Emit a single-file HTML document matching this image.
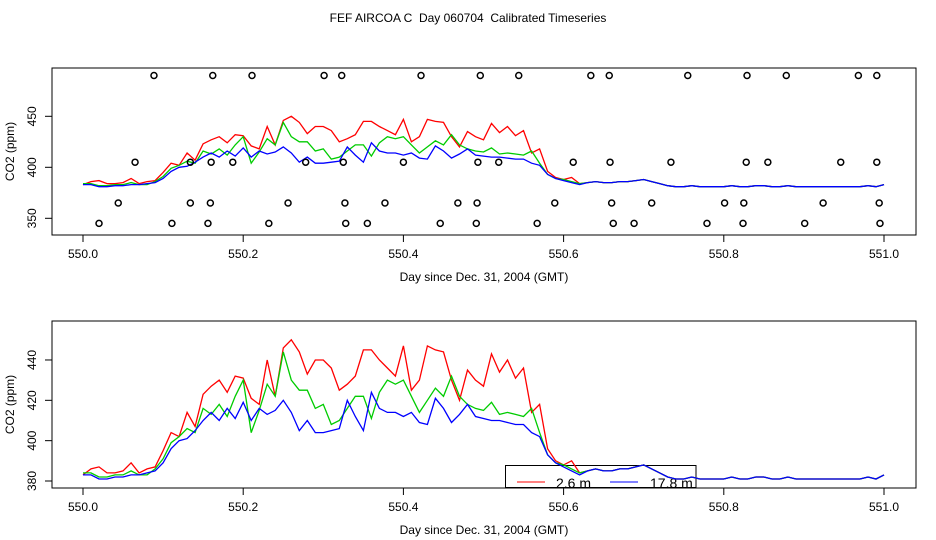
<!DOCTYPE html>
<html><head><meta charset="utf-8"><style>
html,body{margin:0;padding:0;background:#fff;}
svg{display:block;font-family:"Liberation Sans",sans-serif;}
</style></head><body>
<svg id="chart" width="936" height="540" viewBox="0 0 936 540" xmlns="http://www.w3.org/2000/svg">
<rect width="936" height="540" fill="#fff"/>
<text x="468" y="22" font-size="12" text-anchor="middle" style="white-space:pre" xml:space="preserve">FEF AIRCOA C  Day 060704  Calibrated Timeseries</text>
<g id="top"></g>
<g id="bot"></g>
</svg>
<script>
const tail = [385,386,385,385,386,386,387,388,386,384,382,381,381,382,381,381,381,381,382,381,381,382,382,381,381,382,381,381,381,381,381,381,381,381,381,382,381,383];
const red = [383,386,387,384,384,385,389,384,386,387,395,404,402,414,407,423,427,430,424,432,431,421,418,440,422,446,450,444,433,440,440,436,425,428,432,445,445,440,436,432,447,425,430,447,445,444,430,420,435,430,427,443,434,440,431,436,414,418,396,390,388,390,384].concat(tail);
const green = [384,384,382,382,383,383,385,383,383,386,391,399,402,406,404,416,413,418,412,422,430,404,415,428,422,444,430,425,425,416,418,408,410,416,422,422,411,424,430,428,430,422,414,420,426,422,432,422,418,416,415,419,413,414,413,412,416,404,393,389,388,386,384].concat(tail);
const blue = [383,383,381,381,382,382,383,383,384,385,389,396,400,401,405,410,414,410,416,411,419,410,416,413,415,420,414,405,410,404,404,405,406,420,412,405,424,416,414,414,412,414,409,408,421,416,409,413,418,412,411,410,410,409,408,408,404,402,393,389,387,385,383].concat(tail);
const flagRow490 = [0.0886,0.162,0.211,0.301,0.323,0.422,0.496,0.544,0.634,0.657,0.755,0.829,0.878,0.968,0.991];
const flagRow405 = [0.065,0.134,0.160,0.187,0.278,0.325,0.400,0.493,0.519,0.612,0.658,0.734,0.828,0.855,0.946,0.991];
const flagRow365 = [0.044,0.134,0.159,0.256,0.327,0.377,0.468,0.492,0.589,0.660,0.710,0.801,0.825,0.924,0.994];
const flagRow345 = [0.020,0.111,0.156,0.232,0.328,0.355,0.446,0.491,0.567,0.662,0.688,0.779,0.824,0.901,0.995];
const xTicks = [550.0,550.2,550.4,550.6,550.8,551.0];
const topYTicks = [350,400,450];
const botYTicks = [380,400,420,440];

const NS="http://www.w3.org/2000/svg";
function mk(parent,tag,attrs,text){const e=document.createElementNS(NS,tag);for(const k in attrs)e.setAttribute(k,attrs[k]);if(text!==undefined)e.textContent=text;parent.appendChild(e);return e;}
const xs = d => 83 + (d-550)*801;
const dayOf = i => 550 + i*0.01;

function panel(g, box, ys, yTicks, legend){
  const r=mk(g,'rect',{x:box.l,y:box.t,width:box.r-box.l,height:box.b-box.t,fill:'none',stroke:'#000','stroke-width':1});
  
  
  xTicks.forEach(t=>{
    const x=xs(t);
    const l=mk(g,'line',{x1:x,x2:x,y1:box.b,y2:box.b+7,stroke:'#000'});
    
    
    const tx=mk(g,'text',{x:x,y:box.b+23,'font-size':12,'text-anchor':'middle'},t.toFixed(1));
    
    
  });
  yTicks.forEach(t=>{
    const y=ys(t);
    const l=mk(g,'line',{x1:box.l-7,x2:box.l,y1:y,y2:y,stroke:'#000'});
    
    
    const tx=mk(g,'text',{x:0,y:0,'font-size':12,'text-anchor':'middle',transform:`translate(${box.l-16},${y}) rotate(-90)`},String(t));
    
    
  });
  const xt=mk(g,'text',{x:484,y:box.b+46,'font-size':12,'text-anchor':'middle'},'Day since Dec. 31, 2004 (GMT)');
  
  
  const yt=mk(g,'text',{x:0,y:0,'font-size':12,'text-anchor':'middle',transform:`translate(14,${(box.t+box.b)/2}) rotate(-90)`},'CO2 (ppm)');
  
  
  if(legend){
    const lg=mk(g,'g',{});
    
    
    mk(lg,'rect',{x:505.5,y:465.5,width:190.5,height:22,fill:'none',stroke:'#000'});
    const e1=mk(lg,'g',{});
    
    
    mk(e1,'line',{x1:517,x2:545,y1:482,y2:482,stroke:'#f00'});
    mk(e1,'text',{x:556,y:488,'font-size':14},'2.6 m');
    const e2=mk(lg,'g',{});
    
    
    mk(e2,'line',{x1:610,x2:638,y1:482,y2:482,stroke:'#00f'});
    mk(e2,'text',{x:650,y:488,'font-size':14},'17.8 m');
  }
  [[red,'#f00','series-red'],[green,'#0c0','series-green'],[blue,'#00f','series-blue']].forEach(([arr,c,n])=>{
    const pts=arr.map((v,i)=>xs(dayOf(i)).toFixed(1)+','+ys(v).toFixed(1)).join(' ');
    const p=mk(g,'polyline',{points:pts,fill:'none',stroke:c,'stroke-width':1.3});
    
    
  });
}

const topG=document.getElementById('top');
const topY = v => 167.3 - (v-400)*1.02;
panel(topG,{l:52,r:916,t:68,b:235},topY,topYTicks,false);
[[flagRow490,490],[flagRow405,405],[flagRow365,365],[flagRow345,345]].forEach(([row,lev])=>{
  row.forEach(d=>{
    const c=mk(topG,'circle',{cx:xs(550+d),cy:topY(lev),r:3,fill:'none',stroke:'#000','stroke-width':1.5});
    
    
  });
});
const botG=document.getElementById('bot');
const botY = v => 481 - (v-380)*2.017;
panel(botG,{l:52,r:916,t:321,b:488},botY,botYTicks,true);
</script>
</body></html>
